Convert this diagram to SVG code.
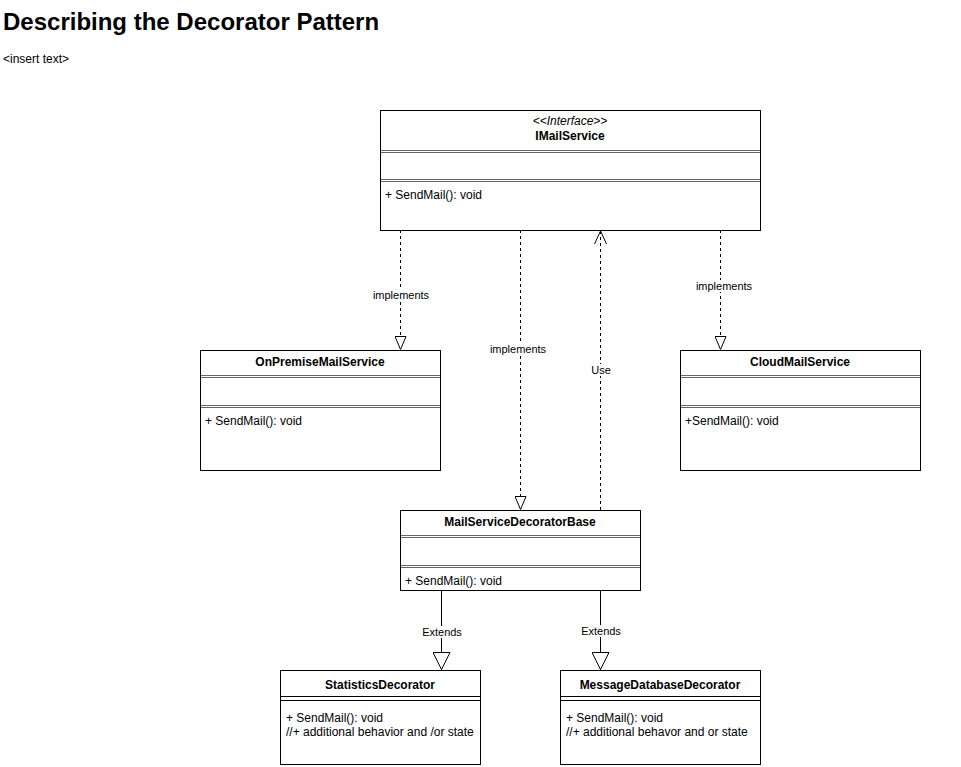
<svg xmlns="http://www.w3.org/2000/svg" width="961" height="767" viewBox="0 0 961 767">
<defs>
<style>
text{font-family:"Liberation Sans",Arial,sans-serif;fill:#000}
.box{fill:#fff;stroke:#000;stroke-width:1}
.sep{stroke:#000;stroke-width:1;fill:none}
.nm{font-size:12px;font-weight:bold;text-anchor:middle}
.st{font-size:12px;font-style:italic;text-anchor:middle}
.mt{font-size:12px}
.lbl{font-size:11px;text-anchor:middle}
.dash{stroke:#000;stroke-width:1;fill:none;stroke-dasharray:3 3}
.solid{stroke:#000;stroke-width:1;fill:none}
.lbg{fill:#fff}
</style>
<marker id="tri" viewBox="0 0 14 12" refX="14" refY="6" markerWidth="14" markerHeight="12" markerUnits="userSpaceOnUse" orient="auto">
<path d="M0.5,0.5 L13.5,6 L0.5,11.5 Z" fill="#fff" stroke="#000" stroke-width="1"/>
</marker>
<marker id="bigtri" viewBox="0 0 18 18" refX="18" refY="9" markerWidth="18" markerHeight="18" markerUnits="userSpaceOnUse" orient="auto">
<path d="M0.5,0.5 L17.5,9 L0.5,17.5 Z" fill="#fff" stroke="#000" stroke-width="1"/>
</marker>
<marker id="open" viewBox="0 0 13 13" refX="13" refY="6.5" markerWidth="13" markerHeight="13" markerUnits="userSpaceOnUse" orient="auto">
<path d="M0,0.5 L13,6.5 L0,12.5" fill="none" stroke="#000" stroke-width="1"/>
</marker>
</defs>
<rect width="961" height="767" fill="#fff"/>
<text x="3" y="30" style="font-size:24px;font-weight:bold">Describing the Decorator Pattern</text>
<text x="3" y="63" style="font-size:12px">&lt;insert text&gt;</text>

<g id="connectors">
<line class="dash" x1="400.5" y1="230" x2="400.5" y2="350" marker-end="url(#tri)"/>
<rect class="lbg" x="371" y="289" width="60" height="12"/>
<text class="lbl" x="401" y="299">implements</text>

<line class="dash" x1="520.5" y1="230" x2="520.5" y2="510" marker-end="url(#tri)"/>
<rect class="lbg" x="488" y="343" width="60" height="12"/>
<text class="lbl" x="518" y="353">implements</text>

<line class="dash" x1="600.5" y1="510" x2="600.5" y2="231" marker-end="url(#open)"/>
<rect class="lbg" x="590" y="364" width="22" height="12"/>
<text class="lbl" x="601" y="374">Use</text>

<line class="dash" x1="720.5" y1="230" x2="720.5" y2="350" marker-end="url(#tri)"/>
<rect class="lbg" x="693" y="280" width="60" height="12"/>
<text class="lbl" x="724" y="290">implements</text>

<line class="solid" x1="441.5" y1="590" x2="441.5" y2="670" marker-end="url(#bigtri)"/>
<rect class="lbg" x="420" y="626" width="44" height="12"/>
<text class="lbl" x="442" y="636">Extends</text>

<line class="solid" x1="600.5" y1="590" x2="600.5" y2="670" marker-end="url(#bigtri)"/>
<rect class="lbg" x="579" y="625" width="44" height="12"/>
<text class="lbl" x="601" y="635">Extends</text>
</g>

<g id="IMailService">
<rect class="box" x="380.5" y="110.5" width="380" height="120"/>
<text class="st" x="570" y="125">&lt;&lt;Interface&gt;&gt;</text>
<text class="nm" x="570" y="140">IMailService</text>
<line class="sep" x1="380" y1="150.5" x2="760" y2="150.5" stroke-opacity="0.6"/>
<line class="sep" x1="380" y1="152.5" x2="760" y2="152.5" stroke-opacity="0.6"/>
<line class="sep" x1="380" y1="179.5" x2="760" y2="179.5" stroke-opacity="0.6"/>
<line class="sep" x1="380" y1="181.5" x2="760" y2="181.5" stroke-opacity="0.6"/>
<text class="mt" x="385" y="199">+ SendMail(): void</text>
</g>

<g id="OnPremiseMailService">
<rect class="box" x="200.5" y="350.5" width="240" height="120"/>
<text class="nm" x="320" y="366">OnPremiseMailService</text>
<line class="sep" x1="200" y1="375.5" x2="440" y2="375.5" stroke-opacity="0.6"/>
<line class="sep" x1="200" y1="377.5" x2="440" y2="377.5" stroke-opacity="0.6"/>
<line class="sep" x1="200" y1="405.5" x2="440" y2="405.5" stroke-opacity="0.6"/>
<line class="sep" x1="200" y1="407.5" x2="440" y2="407.5" stroke-opacity="0.6"/>
<text class="mt" x="205" y="425">+ SendMail(): void</text>
</g>

<g id="CloudMailService">
<rect class="box" x="680.5" y="350.5" width="240" height="120"/>
<text class="nm" x="800" y="366">CloudMailService</text>
<line class="sep" x1="680" y1="375.5" x2="920" y2="375.5" stroke-opacity="0.6"/>
<line class="sep" x1="680" y1="377.5" x2="920" y2="377.5" stroke-opacity="0.6"/>
<line class="sep" x1="680" y1="405.5" x2="920" y2="405.5" stroke-opacity="0.6"/>
<line class="sep" x1="680" y1="407.5" x2="920" y2="407.5" stroke-opacity="0.6"/>
<text class="mt" x="685" y="425">+SendMail(): void</text>
</g>

<g id="MailServiceDecoratorBase">
<rect class="box" x="400.5" y="510.5" width="240" height="80"/>
<text class="nm" x="520" y="526">MailServiceDecoratorBase</text>
<line class="sep" x1="400" y1="535.5" x2="640" y2="535.5" stroke-opacity="0.6"/>
<line class="sep" x1="400" y1="537.5" x2="640" y2="537.5" stroke-opacity="0.6"/>
<line class="sep" x1="400" y1="565.5" x2="640" y2="565.5" stroke-opacity="0.6"/>
<line class="sep" x1="400" y1="567.5" x2="640" y2="567.5" stroke-opacity="0.6"/>
<text class="mt" x="405" y="585">+ SendMail(): void</text>
</g>

<g id="StatisticsDecorator">
<rect class="box" x="280.5" y="670.5" width="200" height="94"/>
<text class="nm" x="380" y="689">StatisticsDecorator</text>
<line class="sep" x1="280" y1="696.5" x2="480" y2="696.5"/>
<line class="sep" x1="280" y1="700.5" x2="480" y2="700.5"/>
<text class="mt" x="286" y="722">+ SendMail(): void</text>
<text class="mt" x="286" y="736">//+ additional behavior and /or state</text>
</g>

<g id="MessageDatabaseDecorator">
<rect class="box" x="560.5" y="670.5" width="200" height="94"/>
<text class="nm" x="660" y="689">MessageDatabaseDecorator</text>
<line class="sep" x1="560" y1="696.5" x2="760" y2="696.5"/>
<line class="sep" x1="560" y1="700.5" x2="760" y2="700.5"/>
<text class="mt" x="566" y="722">+ SendMail(): void</text>
<text class="mt" x="566" y="736">//+ additional behavor and or state</text>
</g>
</svg>
